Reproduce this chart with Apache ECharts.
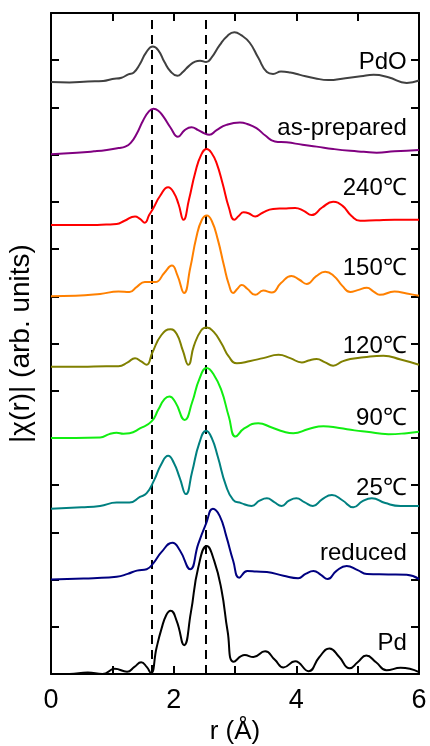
<!DOCTYPE html>
<html>
<head>
<meta charset="utf-8">
<script src="https://cdn.jsdelivr.net/npm/echarts/dist/echarts.min.js"></script>
<style>
  html, body { margin: 0; padding: 0; background: #fff; }
  #chart { width: 430px; height: 746px; }
</style>
</head>
<body>
<div id="chart"></div>
<script>
// Fourier-transformed EXAFS magnitudes |χ(r)|, one [r, value] list per sample
const pdo = [[0,0.04],[0.3,0.03],[0.6,0.05],[0.85,0.06],[1.0,0.1],[1.15,0.13],[1.26,0.2],[1.35,0.24],[1.45,0.42],[1.55,0.66],[1.66,0.79],[1.75,0.71],[1.85,0.46],[1.95,0.26],[2.06,0.17],[2.15,0.25],[2.25,0.38],[2.35,0.47],[2.43,0.49],[2.53,0.46],[2.62,0.56],[2.75,0.82],[2.88,1.02],[2.99,1.09],[3.1,1.03],[3.24,0.87],[3.38,0.55],[3.52,0.25],[3.62,0.21],[3.75,0.26],[3.9,0.24],[4.06,0.19],[4.3,0.12],[4.52,0.08],[4.8,0.12],[5.05,0.16],[5.26,0.19],[5.5,0.14],[5.8,0.02],[6,0.07]];
const asPrepared = [[0,0.01],[0.42,0.04],[0.7,0.07],[0.91,0.1],[1.1,0.14],[1.21,0.17],[1.3,0.25],[1.4,0.45],[1.5,0.72],[1.6,0.92],[1.67,0.97],[1.75,0.93],[1.83,0.81],[1.95,0.57],[2.07,0.38],[2.18,0.52],[2.29,0.58],[2.4,0.52],[2.5,0.45],[2.58,0.42],[2.7,0.52],[2.86,0.63],[3.08,0.68],[3.2,0.65],[3.35,0.56],[3.5,0.4],[3.65,0.28],[3.84,0.26],[4.1,0.21],[4.33,0.17],[4.6,0.12],[4.88,0.08],[5.1,0.06],[5.31,0.04],[5.6,0.07],[6,0.1]];
const t240 = [[0,0.01],[0.4,0.01],[0.69,0.01],[0.9,0.02],[1.07,0.03],[1.2,0.1],[1.37,0.19],[1.45,0.14],[1.53,0.06],[1.6,0.22],[1.67,0.37],[1.78,0.63],[1.91,0.81],[2.0,0.7],[2.08,0.45],[2.16,0.12],[2.25,0.55],[2.35,1.11],[2.45,1.5],[2.54,1.62],[2.62,1.53],[2.7,1.32],[2.8,0.88],[2.9,0.38],[2.99,0.12],[3.06,0.2],[3.14,0.28],[3.22,0.26],[3.33,0.19],[3.45,0.27],[3.62,0.35],[3.8,0.36],[3.98,0.37],[4.12,0.31],[4.25,0.22],[4.42,0.38],[4.6,0.5],[4.75,0.42],[4.9,0.2],[5.04,0.1],[5.3,0.11],[5.6,0.12],[6,0.12]];
const t150 = [[0,0],[0.4,0.01],[0.8,0.05],[1.1,0.1],[1.28,0.09],[1.4,0.2],[1.53,0.3],[1.7,0.3],[1.85,0.5],[1.97,0.65],[2.06,0.45],[2.17,0.07],[2.27,0.6],[2.37,1.25],[2.46,1.62],[2.54,1.71],[2.62,1.6],[2.72,1.2],[2.82,0.65],[2.9,0.25],[2.97,0.07],[3.04,0.16],[3.11,0.24],[3.2,0.16],[3.33,0.03],[3.46,0.12],[3.6,0.08],[3.75,0.28],[3.92,0.43],[4.05,0.35],[4.17,0.26],[4.32,0.42],[4.47,0.52],[4.62,0.42],[4.75,0.22],[4.88,0.09],[5.0,0.13],[5.15,0.18],[5.26,0.1],[5.36,0.03],[5.6,0.1],[5.8,0.06],[6,0.01]];
const t120 = [[0,0.01],[0.5,0.01],[0.9,0.02],[1.1,0.02],[1.25,0.1],[1.37,0.19],[1.47,0.12],[1.56,0.05],[1.65,0.3],[1.8,0.68],[1.95,0.8],[2.05,0.7],[2.15,0.35],[2.24,0.05],[2.33,0.45],[2.45,0.78],[2.54,0.84],[2.65,0.75],[2.78,0.5],[2.9,0.22],[3.03,0.08],[3.25,0.13],[3.46,0.19],[3.71,0.26],[3.9,0.19],[4.09,0.1],[4.2,0.14],[4.33,0.17],[4.47,0.1],[4.6,0.03],[4.75,0.12],[4.88,0.17],[5.1,0.21],[5.42,0.24],[5.7,0.16],[6,0.05]];
const t90 = [[0,0],[0.4,0.0],[0.8,0.01],[0.95,0.08],[1.07,0.11],[1.18,0.09],[1.28,0.1],[1.45,0.2],[1.64,0.35],[1.75,0.6],[1.85,0.82],[1.93,0.88],[2.03,0.75],[2.18,0.38],[2.3,0.75],[2.42,1.25],[2.54,1.48],[2.65,1.35],[2.78,1.0],[2.9,0.45],[3.01,0.03],[3.15,0.2],[3.38,0.31],[3.6,0.22],[3.8,0.13],[3.95,0.1],[4.2,0.19],[4.44,0.25],[4.7,0.21],[4.95,0.16],[5.15,0.13],[5.5,0.08],[5.8,0.1],[6,0.13]];
const t25 = [[0,0],[0.5,0.03],[0.8,0.06],[1.07,0.13],[1.28,0.13],[1.45,0.25],[1.56,0.33],[1.68,0.6],[1.8,0.95],[1.91,1.12],[2.0,0.98],[2.1,0.65],[2.2,0.31],[2.3,0.78],[2.42,1.4],[2.53,1.65],[2.62,1.5],[2.72,1.1],[2.85,0.5],[2.97,0.19],[3.1,0.12],[3.27,0.06],[3.4,0.17],[3.52,0.22],[3.64,0.14],[3.76,0.06],[3.88,0.17],[4.0,0.22],[4.13,0.14],[4.27,0.06],[4.42,0.2],[4.58,0.29],[4.75,0.18],[4.93,0.03],[5.08,0.16],[5.23,0.22],[5.45,0.12],[5.7,0.06],[6,0.06]];
const reduced = [[0,0],[0.4,0.02],[0.69,0.03],[1.07,0.06],[1.25,0.12],[1.4,0.19],[1.56,0.22],[1.67,0.35],[1.8,0.58],[1.98,0.78],[2.1,0.62],[2.27,0.22],[2.4,0.75],[2.53,1.19],[2.64,1.5],[2.75,1.35],[2.86,0.91],[2.97,0.4],[3.07,0.04],[3.2,0.18],[3.35,0.17],[3.52,0.16],[3.79,0.08],[4.03,0.03],[4.15,0.12],[4.28,0.18],[4.4,0.1],[4.51,0.01],[4.65,0.18],[4.82,0.29],[5.0,0.2],[5.15,0.12],[5.5,0.11],[5.8,0.1],[6,0.01]];
const pdFoil = [[0,0],[0.3,0.0],[0.6,0.03],[0.84,0.0],[1.04,0.11],[1.24,0.05],[1.36,0.15],[1.47,0.25],[1.56,0.15],[1.63,0.02],[1.72,0.55],[1.8,0.95],[1.88,1.25],[1.95,1.34],[2.05,1.12],[2.17,0.61],[2.28,1.3],[2.4,2.25],[2.54,2.71],[2.66,2.4],[2.78,1.78],[2.88,0.9],[2.98,0.26],[3.16,0.4],[3.3,0.36],[3.49,0.48],[3.65,0.3],[3.79,0.14],[3.98,0.27],[4.2,0.06],[4.37,0.35],[4.54,0.54],[4.7,0.36],[4.87,0.12],[5.0,0.25],[5.14,0.39],[5.3,0.25],[5.47,0.08],[5.7,0.13],[6,0.04]];

const curves = [pdo, asPrepared, t240, t150, t120, t90, t25, reduced, pdFoil];
const sampleLabels = ['PdO', 'as-prepared', '240\u2103', '150\u2103', '120\u2103', '90\u2103', '25\u2103', 'reduced', 'Pd'];
const offsets = [12.5, 11.0, 9.5, 8.0, 6.5, 5.0, 3.5, 2.0, 0];
const labelY = [12.96, 11.56, 10.28, 8.6, 6.93, 5.42, 3.94, 2.56, 0.64];
const labelR = 5.8;
const colors = ['#404040', '#800080', '#ff0000', '#ff8000', '#808000', '#11ee11', '#008080', '#000080', '#000000'];
const dashedR = [1.65, 2.53];
const rTicks = [0, 2, 4, 6];

const FONT = '"Liberation Sans", Arial, Helvetica, sans-serif';
const chart = echarts.init(document.getElementById('chart'), null, { renderer: 'canvas' });

const series = curves.map((c, i) => ({
  type: 'line',
  name: sampleLabels[i],
  data: c.map(p => [p[0], p[1] + offsets[i]]),
  showSymbol: false,
  smooth: 0.5,
  lineStyle: { color: colors[i], width: 2 },
  itemStyle: { color: colors[i] },
  z: 3,
  silent: true
}));

series[series.length - 1].markLine = {
  silent: true,
  symbol: ['none', 'none'],
  label: { show: false },
  lineStyle: { color: '#000', width: 2, type: [9, 6] },
  data: dashedR.map(r => ({ xAxis: r })),
  z: 2
};

const tickCommon = { show: true, inside: true, length: 8, lineStyle: { color: '#000', width: 2 } };
const lineCommon = { show: true, onZero: false, lineStyle: { color: '#000', width: 2 } };

chart.setOption({
  animation: false,
  backgroundColor: '#fff',
  grid: { left: 51, right: 11, top: 13, bottom: 72, containLabel: false, outerBoundsMode: 'none' },
  xAxis: [
    {
      type: 'value', min: 0, max: 6, interval: 1, position: 'bottom',
      axisLine: lineCommon, axisTick: tickCommon, splitLine: { show: false },
      axisLabel: {
        color: '#000', fontSize: 27, fontFamily: FONT, margin: 13,
        formatter: v => (rTicks.indexOf(v) >= 0 ? String(v) : '')
      },
      name: 'r (\u00C5)', nameLocation: 'middle', nameGap: 43,
      nameTextStyle: { color: '#000', fontSize: 26, fontFamily: FONT }
    },
    {
      type: 'value', min: 0, max: 6, interval: 1, position: 'top',
      axisLine: lineCommon, axisTick: tickCommon, splitLine: { show: false },
      axisLabel: { show: false }
    }
  ],
  yAxis: [
    {
      type: 'value', min: 0, max: 14, interval: 1, position: 'left',
      axisLine: lineCommon, axisTick: tickCommon, splitLine: { show: false },
      axisLabel: { show: false },
      name: '|\u03C7(r)| (arb. units)', nameLocation: 'middle', nameGap: 16,
      nameTextStyle: { color: '#000', fontSize: 28, fontFamily: FONT }
    },
    {
      type: 'value', min: 0, max: 14, interval: 1, position: 'right',
      axisLine: lineCommon, axisTick: tickCommon, splitLine: { show: false },
      axisLabel: { show: false }
    }
  ],
  series: series
});

// Sample names written just above each trace, right-aligned near the frame
const graphics = sampleLabels.map((t, i) => {
  const p = chart.convertToPixel({ xAxisIndex: 0, yAxisIndex: 0 }, [labelR, labelY[i]]);
  return {
    type: 'text', x: p[0], y: p[1], z: 10, silent: true,
    style: { text: t, fill: '#000', font: '24px ' + FONT, align: 'right', verticalAlign: 'middle' }
  };
});
chart.setOption({ graphic: graphics });
</script>
</body>
</html>
